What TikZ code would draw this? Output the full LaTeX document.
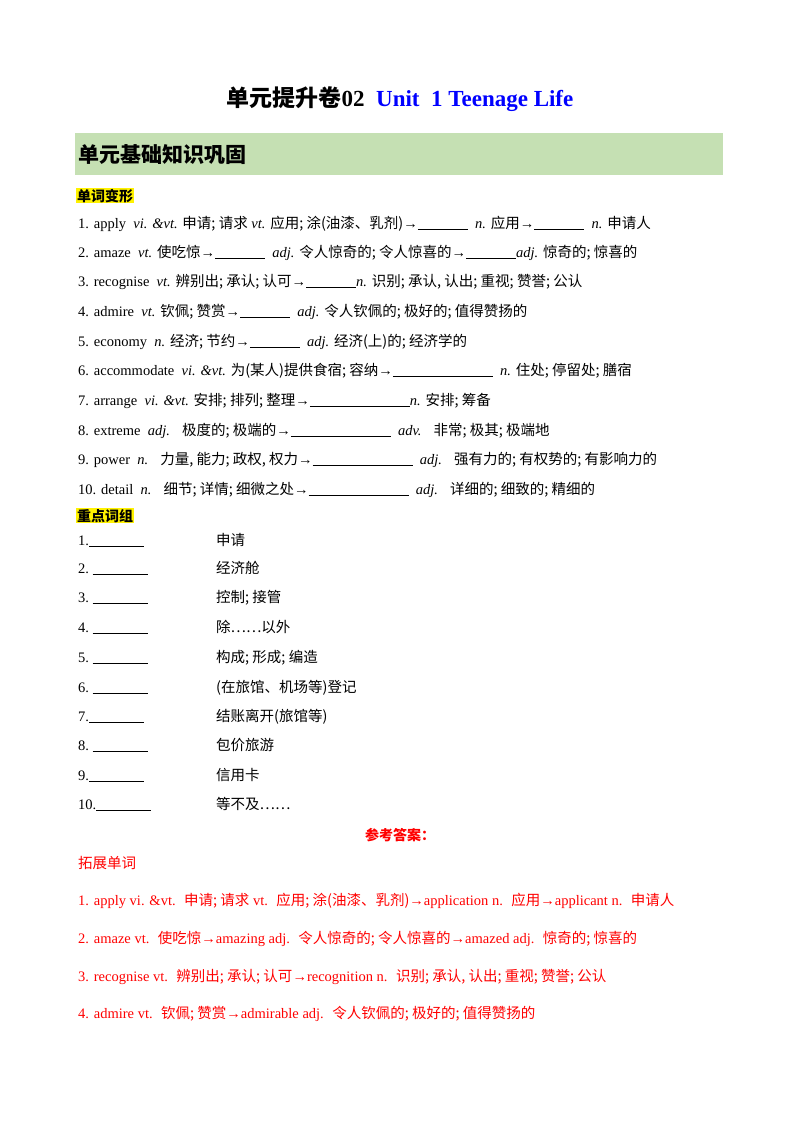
\documentclass[tikz,border=0pt]{standalone}
\usepackage{fontspec}
\setmainfont{Liberation Serif}
\newfontfamily\cjk{Noto Sans CJK SC}
\newcommand\zh[1]{{\cjk #1}}
\newcommand\bl[1]{\rule[-1.5pt]{#1pt}{1pt}}
\definecolor{hdrgreen}{HTML}{C5E0B3}
\definecolor{titleblue}{HTML}{0000FF}
\definecolor{ansred}{HTML}{FF0000}
\begin{document}
\begin{tikzpicture}[x=1pt,y=-1pt,
  line/.style={anchor=base west,inner sep=0,font=\fontsize{14.5}{17}\selectfont},
  ans/.style={line,text=ansred},
  hl/.style={anchor=base west,inner sep=1pt,fill=yellow,font=\fontsize{14}{16}\selectfont\bfseries}]
\useasboundingbox (0,0) rectangle (800,1132);
\node[anchor=base,inner sep=0,font=\fontsize{23}{27}\selectfont\bfseries] (title) at (400,106)
 {\zh{单元提升卷}02\ \ \textcolor{titleblue}{Unit\ \ 1 Teenage Life}};
\fill[hdrgreen] (75,133) rectangle (723,175);
\node[anchor=base west,inner sep=0,font=\fontsize{21}{25}\selectfont\bfseries] (hdr) at (78,162) {\zh{单元基础知识巩固}};
\node[hl] (h1) at (76,201) {\zh{单词变形}};
\node[line] (l1) at (78,228) {1. apply \ \textit{vi. \&vt.} \zh{申请; 请求} \textit{vt.} \zh{应用; 涂(油漆、乳剂)}→\bl{50} \ \textit{n.} \zh{应用}→\bl{50} \ \textit{n.} \zh{申请人}};
\node[line] (l2) at (78,257) {2. amaze \ \textit{vt.} \zh{使吃惊}→\bl{50} \ \textit{adj.} \zh{令人惊奇的; 令人惊喜的}→\bl{50}\textit{adj.} \zh{惊奇的; 惊喜的}};
\node[line] (l3) at (78,286) {3. recognise \ \textit{vt.} \zh{辨别出; 承认; 认可}→\bl{50}\textit{n.} \zh{识别; 承认, 认出; 重视; 赞誉; 公认}};
\node[line] (l4) at (78,316) {4. admire \ \textit{vt.} \zh{钦佩; 赞赏}→\bl{50} \ \textit{adj.} \zh{令人钦佩的; 极好的; 值得赞扬的}};
\node[line] (l5) at (78,346) {5. economy \ \textit{n.} \zh{经济; 节约}→\bl{50} \ \textit{adj.} \zh{经济(上)的; 经济学的}};
\node[line] (l6) at (78,375) {6. accommodate \ \textit{vi. \&vt.} \zh{为(某人)提供食宿; 容纳}→\bl{100} \ \textit{n.} \zh{住处; 停留处; 膳宿}};
\node[line] (l7) at (78,405) {7. arrange \ \textit{vi. \&vt.} \zh{安排; 排列; 整理}→\bl{100}\textit{n.} \zh{安排; 筹备}};
\node[line] (l8) at (78,435) {8. extreme \ \textit{adj.} \ \ \zh{极度的; 极端的}→\bl{100} \ \textit{adv.} \ \ \zh{非常; 极其; 极端地}};
\node[line] (l9) at (78,464) {9. power \ \textit{n.} \ \ \zh{力量, 能力; 政权, 权力}→\bl{100} \ \textit{adj.} \ \ \zh{强有力的; 有权势的; 有影响力的}};
\node[line] (l10) at (78,494) {10. detail \ \textit{n.} \ \ \zh{细节; 详情; 细微之处}→\bl{100} \ \textit{adj.} \ \ \zh{详细的; 细致的; 精细的}};
\node[hl] (h2) at (76,521) {\zh{重点词组}};
\foreach \n/\y/\lab/\zhtxt in {1/545/1.\bl{55}/申请, 2/573/2.\ \bl{55}/经济舱, 3/602/3.\ \bl{55}/控制; 接管, 4/632/4.\ \bl{55}/除……以外, 5/662/5.\ \bl{55}/构成; 形成; 编造, 6/692/6.\ \bl{55}/(在旅馆、机场等)登记, 7/721/7.\bl{55}/结账离开(旅馆等), 8/750/8.\ \bl{55}/包价旅游, 9/780/9.\bl{55}/信用卡, 10/809/10.\bl{55}/等不及……}{
  \node[line] (p\n) at (78,\y) {\lab};
  \node[line] (q\n) at (216,\y) {\zh{\zhtxt}};
}
\node[anchor=base,inner sep=0,text=ansred,font=\fontsize{14}{16}\selectfont\bfseries] (ck) at (400,840) {\zh{参考答案：}};
\node[ans] (tz) at (78,868) {\zh{拓展单词}};
\node[ans] (a1) at (78,905) {1. apply vi. \&vt. \ \zh{申请; 请求} vt. \ \zh{应用; 涂(油漆、乳剂)}→application n. \ \zh{应用}→applicant n. \ \zh{申请人}};
\node[ans] (a2) at (78,943) {2. amaze vt. \ \zh{使吃惊}→amazing adj. \ \zh{令人惊奇的; 令人惊喜的}→amazed adj. \ \zh{惊奇的; 惊喜的}};
\node[ans] (a3) at (78,981) {3. recognise vt. \ \zh{辨别出; 承认; 认可}→recognition n. \ \zh{识别; 承认, 认出; 重视; 赞誉; 公认}};
\node[ans] (a4) at (78,1018) {4. admire vt. \ \zh{钦佩; 赞赏}→admirable adj. \ \zh{令人钦佩的; 极好的; 值得赞扬的}};
\end{tikzpicture}
\end{document}
